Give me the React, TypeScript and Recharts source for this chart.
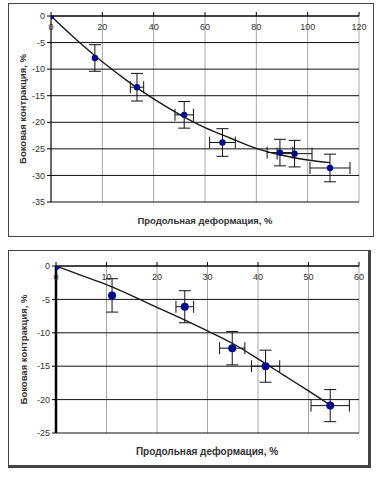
import React from 'react'
import { ComposedChart, Scatter, Line, XAxis, YAxis, CartesianGrid, ErrorBar } from 'recharts'

// top panel: measured points with error bars
const topX = [0, 17.1, 33.5, 51.9, 66.8, 89.2, 94.9, 108.7]
const topY = [0, -7.9, -13.4, -18.6, -23.8, -25.7, -25.9, -28.6]
const topXErr = [0, 0, 2.6, 3.6, 5.0, 5.0, 6.8, 7.8]
const topYErr = [0, 2.5, 2.6, 2.5, 2.6, 2.5, 2.5, 2.6]
// top panel: trend curve
const topFitX = [0, 10, 20, 30, 40, 50, 60, 70, 80, 90, 100, 108.7]
const topFitY = [0, -4.5, -8.6, -12.3, -15.6, -18.5, -21.0, -23.0, -24.9, -26.2, -27.1, -27.6]
const topXTicks = [0, 20, 40, 60, 80, 100, 120]
const topYTicks = [-35, -30, -25, -20, -15, -10, -5, 0]

// bottom panel
const botX = [0, 11.1, 25.5, 34.9, 41.5, 54.3]
const botY = [0, -4.4, -6.1, -12.3, -15.0, -20.9]
const botXErr = [0, 0, 1.75, 2.5, 2.8, 3.8]
const botYErr = [0, 2.5, 2.4, 2.5, 2.4, 2.4]
const botFitX = [0, 5, 10, 16.6, 20, 25, 30, 35, 40, 45, 50, 54.3]
const botFitY = [0, -1.4, -2.8, -5.0, -6.2, -7.9, -9.7, -11.6, -13.9, -16.3, -18.7, -20.8]
const botXTicks = [0, 10, 20, 30, 40, 50, 60]
const botYTicks = [-25, -20, -15, -10, -5, 0]

const xTitle = 'Продольная деформация, %'
const yTitle = 'Боковая контракция, %'

const FONT = '"Liberation Sans", Arial, sans-serif'
const DOT = '#000c8c'

const points = (xs: number[], ys: number[], exs: number[], eys: number[]) =>
  xs.map((x, i) => ({ x, y: ys[i], ex: exs[i], ey: eys[i] }))
const curve = (xs: number[], ys: number[]) => xs.map((x, i) => ({ x, y: ys[i] }))

interface PanelProps {
  top: number
  width: number
  height: number
  margin: { top: number; right: number; bottom: number; left: number }
  xDomain: [number, number]
  yDomain: [number, number]
  xTicks: number[]
  yTicks: number[]
  data: { x: number; y: number; ex: number; ey: number }[]
  fit: { x: number; y: number }[]
  dotR: number
  yAxisStroke: number
  yLabelX: number
}

function Panel(p: PanelProps) {
  const tick = { fontSize: 9, fill: '#333', fontFamily: FONT }
  return (
    <div style={{ position: 'absolute', left: 0, top: p.top }}>
      <ComposedChart width={p.width} height={p.height} margin={p.margin}>
        <CartesianGrid horizontal={false} stroke="#a8a8a8" />
        <CartesianGrid vertical={false} stroke="#111" />
        <XAxis
          dataKey="x"
          type="number"
          orientation="top"
          mirror
          domain={p.xDomain}
          ticks={p.xTicks}
          allowDataOverflow
          tick={tick}
          tickSize={-4}
          tickMargin={12}
          axisLine={{ stroke: '#000' }}
          tickLine={{ stroke: '#000' }}
        />
        <YAxis
          type="number"
          domain={p.yDomain}
          ticks={p.yTicks}
          allowDataOverflow
          width={43}
          tick={tick}
          tickSize={4}
          tickMargin={2}
          axisLine={{ stroke: '#000', strokeWidth: p.yAxisStroke }}
          tickLine={{ stroke: '#000' }}
          label={{
            value: yTitle,
            angle: -90,
            position: 'insideLeft',
            offset: p.yLabelX - p.margin.left,
            style: { textAnchor: 'middle', fontSize: 9.5, fontWeight: 'bold', fill: '#333', fontFamily: FONT },
          }}
        />
        <Line
          data={p.fit}
          dataKey="y"
          type="monotone"
          stroke="#1a1a1a"
          strokeWidth={1.4}
          dot={false}
          activeDot={false}
          isAnimationActive={false}
        />
        <Scatter
          data={p.data}
          dataKey="y"
          isAnimationActive={false}
          shape={(s: any) => <circle cx={s.cx} cy={s.cy} r={p.dotR} fill={DOT} />}
        >
          <ErrorBar dataKey="ex" direction="x" width={6} stroke="#111" strokeWidth={1} />
          <ErrorBar dataKey="ey" direction="y" width={6} stroke="#111" strokeWidth={1} />
        </Scatter>
      </ComposedChart>
    </div>
  )
}

const titleStyle: React.CSSProperties = {
  position: 'absolute',
  fontFamily: FONT,
  fontSize: 9.5,
  fontWeight: 'bold',
  color: '#333',
  whiteSpace: 'nowrap',
  transform: 'translate(-50%, -50%)',
}

export default function App() {
  return (
    <div style={{ position: 'absolute', left: 0, top: 0, width: 377, height: 477, background: '#fff' }}>
      <div style={{ position: 'absolute', left: 8, top: 3, width: 364, height: 232, border: '1.5px solid #444' }} />
      <div
        style={{
          position: 'absolute',
          left: 8,
          top: 250,
          width: 359,
          height: 214,
          border: '1.5px solid #444',
          borderRightWidth: 3,
          borderBottomWidth: 3,
        }}
      />
      <Panel
        top={0}
        width={377}
        height={240}
        margin={{ top: 16, right: 18, bottom: 38, left: 8 }}
        xDomain={[0, 120]}
        yDomain={[-35, 0]}
        xTicks={topXTicks}
        yTicks={topYTicks}
        data={points(topX, topY, topXErr, topYErr)}
        fit={curve(topFitX, topFitY)}
        dotR={3.2}
        yAxisStroke={1}
        yLabelX={23}
      />
      <div style={{ ...titleStyle, left: 205, top: 220 }}>{xTitle}</div>
      <Panel
        top={250}
        width={377}
        height={215}
        margin={{ top: 16, right: 18, bottom: 32, left: 13 }}
        xDomain={[0, 60]}
        yDomain={[-25, 0]}
        xTicks={botXTicks}
        yTicks={botYTicks}
        data={points(botX, botY, botXErr, botYErr)}
        fit={curve(botFitX, botFitY)}
        dotR={4}
        yAxisStroke={2.5}
        yLabelX={24}
      />
      <div style={{ ...titleStyle, left: 207, top: 451, fontSize: 10 }}>{xTitle}</div>
    </div>
  )
}
